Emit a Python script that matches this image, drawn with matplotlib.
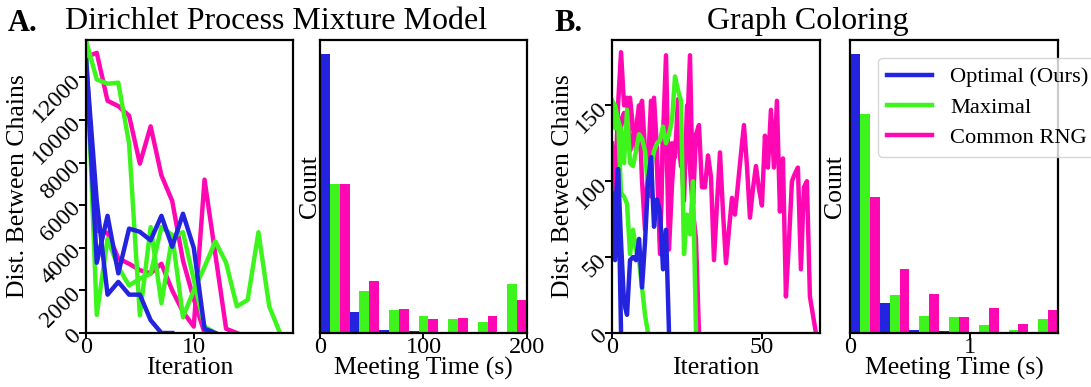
import numpy as np
import matplotlib
matplotlib.use('Agg')
import matplotlib.pyplot as plt

plt.rcParams['font.family'] = ['Liberation Serif', 'DejaVu Serif']
plt.rcParams['axes.linewidth'] = 1.6

# colours for the three couplings
c_blue = '#2424e0'
c_green = '#3df51d'
c_pink = '#ff08b4'
labels = ['Optimal (Ours)', 'Maximal', 'Common RNG']

# A - Dirichlet process mixture model, distance per iteration (two runs each)
blueA1 = [12800, 3300, 5500, 2800, 4900, 4750, 4350, 5500, 4050, 5600, 4000, 200, 0]
blueA2 = [12800, 6200, 1800, 2400, 1800, 1800, 600, 0, 0]
greenA1 = [13750, 11900, 11700, 11750, 8900, 830, 4970, 1400, 4500, 4730, 2500, 300, 0]
greenA2 = [13750, 850, 4420, 3090, 2230, 2550, 2780, 4970, 4600, 750, 2000, 3100,
           4300, 3300, 1250, 1550, 4730, 1250, 0]
pinkA1 = [12950, 13150, 10900, 10650, 10200, 7950, 9700, 7400, 6200, 3400, 1600, 0]
pinkA2 = [12950, 4800, 4700, 3500, 3250, 2950, 2800, 3250, 2000, 1000, 300, 7200,
          3700, 200, 0]

# A - meeting time histogram counts (7 bins over 0..200 s)
histA_edges = np.linspace(0, 200, 8)
histA_blue = [184, 14, 2, 1, 0, 0, 0]
histA_green = [98, 28, 15, 11, 9, 7, 32]
histA_pink = [98, 34, 16, 9, 10, 11, 22]

# B - graph colouring, distance per iteration
blueB1 = [92, 48, 108, 0]
blueB2 = [92, 80, 108, 60, 20, 12, 48, 50, 48, 62, 30, 60, 100, 116, 70, 88, 80, 42, 68, 0]
greenB1 = [153, 135, 140, 92, 90, 85, 52, 68, 55, 48, 30, 12, 0]
greenB2 = [153, 150, 140, 134, 112, 147, 112, 110, 120, 131, 128, 120, 95, 109, 120,
           125, 127, 136, 125, 131, 140, 169, 160, 153, 52, 78, 65, 100, 0]
pinkB1 = [125, 90, 150, 185, 150, 155, 120, 130, 135, 150, 100, 68, 110, 153, 140,
          110, 52, 130, 183, 92, 125, 116, 154, 120, 87, 150, 109, 80, 62, 0]
pinkB2 = [120, 108, 95, 140, 145, 130, 155, 135, 120, 145, 153, 120, 115, 90, 155,
          120, 60, 130, 140, 55, 98, 125, 130, 110, 125, 130, 183, 85, 131, 137,
          96, 96, 117, 103, 48, 85, 119, 80, 46, 68, 89, 78, 98, 118, 137, 110,
          76, 95, 110, 95, 84, 130, 109, 147, 109, 153, 80, 115, 24, 60, 100, 105,
          109, 42, 96, 100, 24, 12, 0]

# B - meeting time histogram counts (7 bins over 0..1.736 s)
histB_edges = np.linspace(0, 1.736, 8)
histB_blue = [178, 19, 2, 1, 0, 0, 0]
histB_green = [140, 24, 11, 10, 5, 2, 9]
histB_pink = [87, 41, 25, 10, 16, 6, 15]

fig = plt.figure(figsize=(10.91, 3.87), dpi=100)
bot, hgt = 0.1395, 0.757
axA = fig.add_axes([0.0788, bot, 0.1897, hgt])
axAh = fig.add_axes([0.2933, bot, 0.1897, hgt])
axB = fig.add_axes([0.561, bot, 0.1907, hgt])
axBh = fig.add_axes([0.7791, bot, 0.1907, hgt])

fs = 18.5
lw = 3.2


def lines(ax, runs, color):
    out = None
    for r in runs:
        out, = ax.plot(np.arange(len(r)), r, color=color, lw=lw)
    return out


def hist(ax, edges, counts):
    centers = 0.5 * (edges[1:] + edges[:-1])
    ax.hist([centers] * 3, bins=edges, weights=counts,
            color=[c_blue, c_green, c_pink], rwidth=1.0)


# graph 1 - A lines (pink under, blue on top)
lines(axA, [pinkA1, pinkA2], c_pink)
lines(axA, [greenA1, greenA2], c_green)
lines(axA, [blueA1, blueA2], c_blue)
axA.set_xlim(0, 19.2)
axA.set_ylim(0, 13750)
axA.set_xticks([0, 10])
axA.set_yticks(range(0, 12001, 2000))
axA.set_ylabel('Dist. Between Chains', fontsize=fs, labelpad=0)
axA.set_xlabel('Iteration', fontsize=fs, labelpad=-1)

# graph 2 - A histogram
hist(axAh, histA_edges, [histA_blue, histA_green, histA_pink])
axAh.set_xlim(0, 200)
axAh.set_xticks([0, 100, 200])
axAh.set_yticks([])
axAh.set_ylabel('Count', fontsize=fs, labelpad=-1)
axAh.set_xlabel('Meeting Time (s)', fontsize=fs, labelpad=-1)

# graph 3 - B lines
h3 = lines(axB, [pinkB1, pinkB2], c_pink)
h2 = lines(axB, [greenB1, greenB2], c_green)
h1 = lines(axB, [blueB1, blueB2], c_blue)
axB.set_xlim(0, 69.4)
axB.set_ylim(0, 193)
axB.set_xticks([0, 50])
axB.set_yticks([0, 50, 100, 150])
axB.set_ylabel('Dist. Between Chains', fontsize=fs, labelpad=-2)
axB.set_xlabel('Iteration', fontsize=fs, labelpad=-1)

# graph 4 - B histogram
hist(axBh, histB_edges, [histB_blue, histB_green, histB_pink])
axBh.set_xlim(0, 1.736)
axBh.set_xticks([0, 1])
axBh.set_yticks([])
axBh.set_ylabel('Count', fontsize=fs, labelpad=3)
axBh.set_xlabel('Meeting Time (s)', fontsize=fs, labelpad=-1)

for ax in [axA, axAh, axB, axBh]:
    ax.tick_params(axis='x', labelsize=17.5, length=4, width=1.4, pad=-1)
    ax.tick_params(axis='y', labelsize=17, length=5, width=1.4, pad=1)
for ax in [axA, axB]:
    for t in ax.get_yticklabels():
        t.set_rotation(45)
        t.set_rotation_mode('anchor')
        t.set_ha('right')
        t.set_va('center')

leg = axBh.legend([h1, h2, h3], labels, loc='upper left', bbox_to_anchor=(0.135, 0.94),
                  borderaxespad=0, fontsize=16.2, handlelength=2.0, labelspacing=0.42)
leg.get_frame().set_edgecolor('#cccccc')

fig.text(0.007, 0.94, 'A.', fontsize=22, fontweight='bold', va='center')
fig.text(0.253, 0.945, 'Dirichlet Process Mixture Model', fontsize=23, ha='center', va='center')
fig.text(0.508, 0.94, 'B.', fontsize=22, fontweight='bold', va='center')
fig.text(0.740, 0.945, 'Graph Coloring', fontsize=23, ha='center', va='center')

fig.savefig('out.png', dpi=100)
